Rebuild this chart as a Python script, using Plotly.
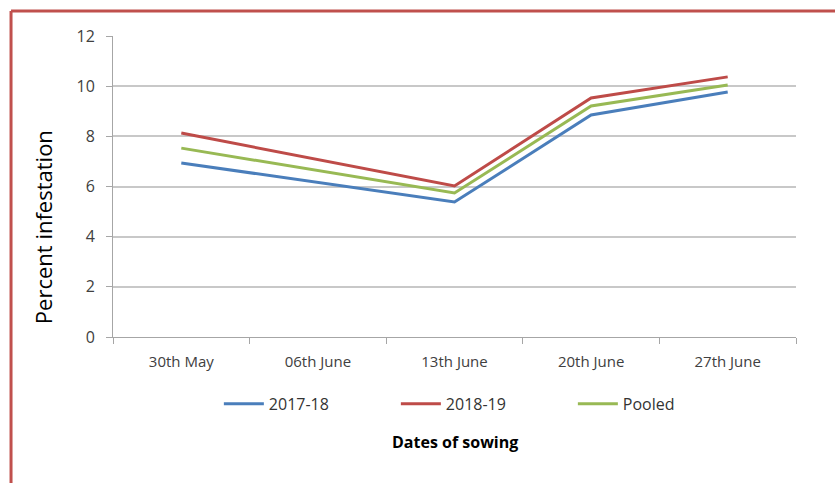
import plotly.graph_objects as go

categories = ["30th May", "06th June", "13th June", "20th June", "27th June"]
s2017 = [6.94, None, 5.38, 8.85, 9.77]
s2018 = [8.13, None, 6.02, 9.53, 10.37]
pooled = [7.53, None, 5.74, 9.21, 10.05]
series_names = ["2017-18", "2018-19", "Pooled"]
colors = ["#4A7EBB", "#BE4B48", "#98B954"]

FONT = "Open Sans"
fig = go.Figure()
for name, vals, c in zip(series_names, [s2017, s2018, pooled], colors):
    fig.add_trace(go.Scatter(x=categories, y=vals, name=name, mode="lines",
                             connectgaps=True, line=dict(color=c, width=3)))

fig.update_layout(
    width=835, height=483,
    margin=dict(l=113, r=39, t=36, b=146),
    paper_bgcolor="white", plot_bgcolor="white",
    font=dict(family=FONT, size=15, color="#404040"),
    showlegend=True,
    legend=dict(orientation="h", x=0.155, xanchor="left", y=-0.222, yanchor="middle",
                font=dict(size=16, color="#333333"), entrywidth=122, itemwidth=40,
                tracegroupgap=0),
    xaxis=dict(type="category", range=[-0.5, 4.5], showgrid=False,
               showline=True, linecolor="#A6A6A6", linewidth=1,
               ticks="outside", tickson="boundaries", ticklen=6, tickcolor="#A6A6A6",
               ticklabelstandoff=11,
               tickfont=dict(size=15, color="#404040")),
    yaxis=dict(range=[0, 12], dtick=2, showgrid=True, gridcolor="#C8C8C8", gridwidth=1.5,
               showline=True, linecolor="#A6A6A6", linewidth=1, zeroline=False,
               ticks="outside", ticklen=6, tickcolor="#A6A6A6",
               ticklabelstandoff=8,
               tickfont=dict(size=16, color="#404040")),
)
fig.add_annotation(text="Percent infestation", xref="paper", yref="paper",
                   x=-0.1025, y=0.365, xanchor="center", yanchor="middle", textangle=-90,
                   showarrow=False, font=dict(family=FONT, size=22, color="#000000"))
fig.add_annotation(text="<b>Dates of sowing</b>", xref="paper", yref="paper", x=0.5, y=-0.35,
                   xanchor="center", yanchor="middle", showarrow=False,
                   font=dict(family=FONT, size=16, color="#000000"))
fig.add_shape(type="line", xref="paper", yref="paper", x0=-0.1493, x1=1.2, y0=1.083, y1=1.083,
              line=dict(color="#C0504D", width=3))
fig.add_shape(type="line", xref="paper", yref="paper", x0=-0.1493, x1=-0.1493, y0=1.083, y1=-0.6,
              line=dict(color="#C0504D", width=3))
fig.write_html("out.html")
